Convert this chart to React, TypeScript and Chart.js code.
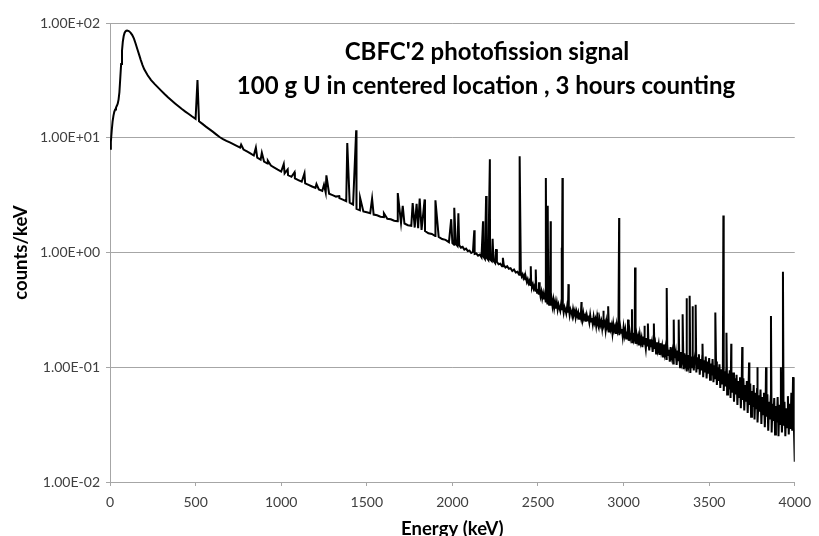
import React, { useEffect, useRef } from "react";
import { Chart, registerables } from "chart.js";

Chart.register(...registerables);

const titleLines = ["CBFC'2 photofission signal", "100 g U in centered location , 3 hours counting"];
const xAxisTitle = "Energy (keV)";
const yAxisTitle = "counts/keV";

const xTickValues = [0, 500, 1000, 1500, 2000, 2500, 3000, 3500, 4000];
const yTickValues = [0.01, 0.1, 1, 10, 100];
const yTickLabels = ["1.00E-02", "1.00E-01", "1.00E+00", "1.00E+01", "1.00E+02"];

// continuum of the spectrum below 2400 keV: [energy keV, counts/keV]
const continuum: [number, number][] = [
  [0, 8.0], [5, 9.2], [10, 11.5], [15, 13.8], [20, 15.5], [25, 16.8], [30, 17.6], [35, 18.3], [40, 19.0], [45, 19.8],
  [50, 21.5], [55, 25], [60, 33], [65, 44], [70, 57], [75, 69], [80, 77], [85, 82], [90, 84.5], [95, 85.5],
  [100, 85.8], [110, 85], [120, 82.5], [130, 78.5], [140, 73], [150, 66], [160, 59], [170, 53], [180, 47.5], [190, 43],
  [200, 39.5], [220, 35], [240, 31.8], [260, 29.5], [280, 27.5], [300, 25.6], [320, 23.9], [340, 22.4], [360, 21.1], [380, 19.9],
  [400, 18.8], [420, 17.8], [440, 16.9], [460, 16.1], [480, 15.3], [500, 14.6], [520, 13.9], [540, 13.2], [560, 12.5], [580, 11.9],
  [600, 11.3], [620, 10.7], [640, 10.15], [660, 9.75], [680, 9.4], [700, 9.1], [720, 8.8], [740, 8.5], [760, 8.2], [780, 7.9],
  [800, 7.6], [820, 7.3], [840, 7.0], [860, 6.7], [880, 6.45], [900, 6.2], [920, 5.95], [940, 5.72], [960, 5.5], [980, 5.28],
  [1000, 5.08], [1020, 4.9], [1040, 4.73], [1060, 4.57], [1080, 4.42], [1100, 4.28], [1120, 4.14], [1140, 4.01], [1160, 3.88], [1180, 3.76],
  [1200, 3.65], [1220, 3.54], [1240, 3.44], [1260, 3.34], [1280, 3.25], [1300, 3.16], [1320, 3.07], [1340, 2.98], [1360, 2.89], [1380, 2.8],
  [1400, 2.72], [1420, 2.62], [1440, 2.4], [1460, 2.33], [1480, 2.28], [1500, 2.24], [1520, 2.2], [1540, 2.14], [1560, 2.11], [1580, 2.05],
  [1600, 2.03], [1620, 1.97], [1640, 1.95], [1660, 1.89], [1680, 1.87], [1700, 1.81], [1720, 1.79], [1740, 1.73], [1760, 1.71], [1780, 1.65],
  [1800, 1.63], [1820, 1.57], [1840, 1.54], [1860, 1.47], [1880, 1.45], [1900, 1.39], [1920, 1.37], [1940, 1.31], [1960, 1.29], [1980, 1.23],
  [2000, 1.21], [2010, 1.17], [2020, 1.19], [2030, 1.14], [2040, 1.16], [2050, 1.1], [2060, 1.12], [2070, 1.06], [2080, 1.08], [2090, 1.03],
  [2100, 1.04], [2110, 0.99], [2120, 1.01], [2130, 0.97], [2140, 0.98], [2150, 0.94], [2160, 0.96], [2170, 0.91], [2180, 0.93], [2190, 0.88],
  [2200, 0.9], [2210, 0.86], [2220, 0.87], [2230, 0.84], [2240, 0.85], [2250, 0.81], [2260, 0.83], [2270, 0.79], [2280, 0.8], [2290, 0.76],
  [2300, 0.78], [2310, 0.74], [2320, 0.76], [2330, 0.72], [2340, 0.73], [2350, 0.69], [2360, 0.71], [2370, 0.67], [2380, 0.68], [2390, 0.64],
];

// noisy continuum from 2400 keV to 4000 keV, one value every 5 keV
const highEnergyStart = 2400;
const highEnergyStep = 5;
const highEnergyCounts: number[] = [
  0.67, 0.62, 0.645, 0.6, 0.63, 0.585, 0.6, 0.555, 0.585, 0.54,
  0.565, 0.52, 0.55, 0.5, 0.53, 0.485, 0.51, 0.465, 0.495, 0.445,
  0.48, 0.43, 0.465, 0.415, 0.455, 0.4, 0.44, 0.39, 0.43, 0.375,
  0.41, 0.36, 0.405, 0.35, 0.4, 0.345, 0.39, 0.34, 0.385, 0.33,
  0.37,
  0.325, 0.365, 0.318, 0.352, 0.33, 0.31, 0.355, 0.315, 0.34, 0.3,
  0.335, 0.318, 0.295, 0.335, 0.3, 0.325, 0.285, 0.32, 0.305, 0.28,
  0.32, 0.29, 0.31, 0.272, 0.305, 0.28, 0.3, 0.265, 0.3, 0.275,
  0.29, 0.258, 0.295, 0.265, 0.28, 0.25, 0.285, 0.262, 0.27, 0.245,
  0.285, 0.25, 0.268, 0.238, 0.275, 0.245, 0.262, 0.23, 0.27, 0.24,
  0.222, 0.262, 0.235, 0.252, 0.218, 0.258, 0.228, 0.245, 0.21, 0.25,
  0.222, 0.24, 0.205, 0.245, 0.215, 0.232, 0.198, 0.238, 0.21, 0.225,
  0.195, 0.232, 0.205, 0.22, 0.19, 0.228, 0.2, 0.215, 0.185, 0.222,
  0.19, 0.212, 0.178, 0.205, 0.185, 0.17, 0.208, 0.18, 0.195, 0.165,
  0.2, 0.175, 0.19, 0.16, 0.195, 0.17, 0.185, 0.155, 0.19, 0.165,
  0.18, 0.15, 0.185, 0.16, 0.175, 0.145, 0.18, 0.155, 0.17, 0.14,
  0.175, 0.15, 0.165, 0.136, 0.17, 0.145, 0.16, 0.132, 0.165, 0.142,
  0.158, 0.128, 0.162, 0.138, 0.152, 0.122, 0.158, 0.132, 0.148, 0.118,
  0.155, 0.128, 0.142, 0.112, 0.15, 0.125, 0.138, 0.108, 0.145, 0.12,
  0.135, 0.105, 0.14, 0.115, 0.13, 0.1, 0.136, 0.112, 0.125, 0.096,
  0.132, 0.108, 0.12, 0.092, 0.128, 0.104, 0.116, 0.089, 0.124, 0.1,
  0.128, 0.094, 0.118, 0.135, 0.09, 0.122, 0.098, 0.13, 0.086, 0.118,
  0.094, 0.126, 0.082, 0.115, 0.09, 0.124, 0.08, 0.112, 0.088, 0.12,
  0.078, 0.108, 0.085, 0.118, 0.074, 0.104, 0.08, 0.112, 0.07, 0.1,
  0.076, 0.106, 0.066, 0.096, 0.072, 0.1, 0.062, 0.092, 0.068, 0.096,
  0.058, 0.088, 0.064, 0.094, 0.054, 0.084, 0.06, 0.09, 0.05, 0.08,
  0.058, 0.086, 0.047, 0.076, 0.055, 0.082, 0.044, 0.072, 0.052, 0.08,
  0.042, 0.07, 0.05, 0.076, 0.04, 0.066, 0.047, 0.072, 0.037, 0.062,
  0.045, 0.07, 0.035, 0.06, 0.043, 0.066, 0.033, 0.057, 0.041, 0.064,
  0.032, 0.055, 0.039, 0.06, 0.03, 0.052, 0.037, 0.058, 0.028, 0.05,
  0.035, 0.056, 0.027, 0.048, 0.034, 0.054, 0.026, 0.046, 0.033, 0.055,
  0.025, 0.047, 0.032, 0.052, 0.027, 0.045, 0.031, 0.05, 0.025, 0.044,
  0.03, 0.056, 0.026, 0.048, 0.029, 0.06, 0.028, 0.082, 0.03, 0.015,
];

// gamma lines on top of the continuum: [energy keV, counts/keV at the peak]
const peaks: [number, number][] = [
  [511, 31.8], [766, 8.7], [852, 8.2], [887, 7.4], [922, 6.3], [1015, 5.9], [1038, 5.3], [1078, 5.0], [1136, 4.9],
  [1206, 3.95], [1250, 3.9], [1264, 4.7], [1339, 3.1], [1386, 9.0], [1438, 11.6], [1461, 3.0], [1531, 2.95], [1600, 2.2],
  [1681, 3.3], [1710, 2.55], [1768, 2.7], [1791, 2.65], [1809, 2.95], [1838, 2.9], [1901, 2.85], [1993, 1.95], [2011, 2.45],
  [2035, 2.2], [2128, 1.56], [2179, 1.87], [2197, 3.1], [2219, 6.5], [2235, 1.32], [2255, 1.07], [2295, 0.9], [2393, 6.9],
  [2458, 0.76], [2487, 0.71], [2506, 0.55], [2546, 4.45], [2557, 2.55], [2574, 1.87], [2638, 1.1], [2643, 4.45], [2678, 0.53],
  [2754, 0.37], [2847, 0.3], [2881, 0.31], [2910, 0.34], [2974, 2.0], [3026, 0.26], [3049, 0.32], [3067, 0.74], [3121, 0.23],
  [3142, 0.24], [3177, 0.24], [3252, 0.49], [3293, 0.26], [3322, 0.26], [3345, 0.29], [3368, 0.4], [3386, 0.42], [3403, 0.34],
  [3421, 0.35], [3461, 0.16], [3536, 0.3], [3583, 2.1], [3601, 0.2], [3629, 0.16], [3693, 0.15], [3733, 0.11], [3780, 0.1],
  [3832, 0.1], [3861, 0.28], [3919, 0.1], [3931, 0.68],
];

const GRID = "#a6a6a6";
const TICK_FONT = { family: "Lato, 'Open Sans', sans-serif", size: 14 };

const textPlugin = {
  id: "spectrumTexts",
  afterDraw(chart: any) {
    const ctx = chart.ctx as CanvasRenderingContext2D;
    const area = chart.chartArea;
    ctx.save();
    ctx.fillStyle = "#000";
    ctx.textAlign = "center";
    ctx.textBaseline = "alphabetic";
    ctx.font = "bold 24px Lato, 'Open Sans', sans-serif";
    ctx.fillText(titleLines[0], 487, 60);
    ctx.fillText(titleLines[1], 486, 94);
    ctx.font = "bold 18.5px Lato, 'Open Sans', sans-serif";
    ctx.fillText(xAxisTitle, (area.left + area.right) / 2, 535);
    ctx.translate(27, (area.top + area.bottom) / 2);
    ctx.rotate(-Math.PI / 2);
    ctx.fillText(yAxisTitle, 0, 0);
    ctx.restore();
  },
};

export default function App() {
  const canvasRef = useRef<HTMLCanvasElement | null>(null);

  useEffect(() => {
    const canvas = canvasRef.current;
    if (!canvas) return;
    const highEnergy: [number, number][] = highEnergyCounts.map((v, i) => [highEnergyStart + i * highEnergyStep, v]);
    const points = [...continuum, ...highEnergy, ...peaks]
      .map(([x, y]) => ({ x, y }))
      .sort((a, b) => a.x - b.x);

    const chart = new Chart(canvas, {
      type: "line",
      data: {
        datasets: [
          {
            label: "counts/keV",
            data: points,
            borderColor: "#000",
            borderWidth: 2,
            pointRadius: 0,
            tension: 0,
            fill: false,
          },
        ],
      },
      options: {
        animation: false,
        responsive: false,
        events: [],
        layout: { padding: { left: 0, right: 18, top: 23, bottom: 0 } },
        plugins: {
          legend: { display: false },
          tooltip: { enabled: false },
          title: { display: false },
        },
        scales: {
          x: {
            type: "linear",
            min: 0,
            max: 4000,
            afterBuildTicks: (scale: any) => {
              scale.ticks = xTickValues.map((v) => ({ value: v }));
            },
            afterFit: (scale: any) => {
              scale.height = 54;
            },
            ticks: {
              font: TICK_FONT,
              color: "#404040",
              padding: 8,
              maxRotation: 0,
              autoSkip: false,
              callback: (v: any) => String(v),
            },
            grid: { drawOnChartArea: false, drawTicks: true, tickLength: 4, color: GRID },
            border: { display: true, color: GRID },
          },
          y: {
            type: "logarithmic",
            min: 0.01,
            max: 100,
            afterBuildTicks: (scale: any) => {
              scale.ticks = yTickValues.map((v) => ({ value: v }));
            },
            afterFit: (scale: any) => {
              scale.width = 110;
            },
            ticks: {
              font: TICK_FONT,
              color: "#404040",
              padding: 6,
              callback: (v: any) => {
                const i = yTickValues.findIndex((t) => Math.abs(t - Number(v)) / t < 1e-6);
                return i >= 0 ? yTickLabels[i] : "";
              },
            },
            grid: { color: GRID, tickLength: 4, drawTicks: true },
            border: { display: true, color: GRID },
          },
        },
      },
      plugins: [textPlugin],
    } as any);

    return () => chart.destroy();
  }, []);

  return (
    <div style={{ position: "fixed", left: 0, top: 0, width: 819, height: 536, background: "#fff" }}>
      <canvas ref={canvasRef} width={819} height={536} style={{ width: 819, height: 536, display: "block" }} />
    </div>
  );
}
